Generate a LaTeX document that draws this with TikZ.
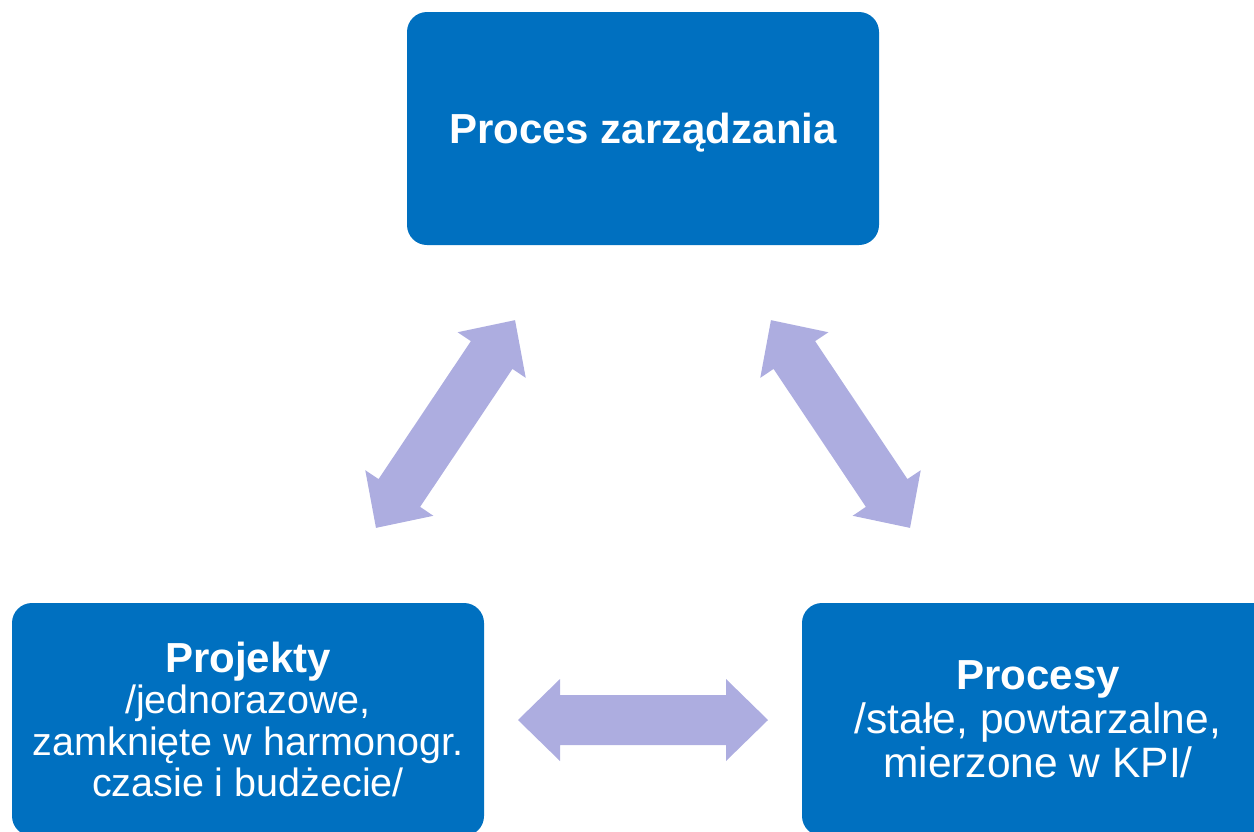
\documentclass[tikz,border=0pt]{standalone}
\usepackage{fontspec}
\setmainfont{Liberation Sans}
\definecolor{boxblue}{HTML}{0070C0}
\definecolor{arrlav}{HTML}{ADADE0}
\begin{document}
\begin{tikzpicture}[x=1pt,y=-1pt,
  blockbox/.style={fill=boxblue, rounded corners=20pt, minimum width=472pt, minimum height=233pt,
    text=white, align=center, inner sep=0pt, font=\fontsize{39.5}{41.5}\selectfont},
  dblarrow/.pic={\fill[arrlav] (-125,0) -- (-83,-41) -- (-83,-25) -- (83,-25) -- (83,-41) -- (125,0)
      -- (83,41) -- (83,25) -- (-83,25) -- (-83,41) -- cycle;}]
\useasboundingbox (0,0) rectangle (1254,831);
\clip (0,0) rectangle (1254,831);
\node[blockbox, text depth=0pt] (top) at (643,128.5) {\fontsize{42}{41.5}\selectfont\bfseries Proces zarządzania};
\node[blockbox] (proj) at (248,719.5) {{\fontsize{42}{41.5}\selectfont\bfseries Projekty}\\/jednorazowe,\\zamknięte w harmonogr.\\czasie i budżecie/};
\node[blockbox, font=\fontsize{42.5}{44}\selectfont] (proc) at (1038,719.5) {{\fontsize{42}{43}\selectfont\bfseries Procesy}\\/stałe, powtarzalne,\\mierzone w KPI/};
\pic[rotate=56.2] (a1) at (445.5,424) {dblarrow};
\pic[rotate=-56.2] (a2) at (840.5,424) {dblarrow};
\pic (a3) at (643,720) {dblarrow};
\end{tikzpicture}
\end{document}
